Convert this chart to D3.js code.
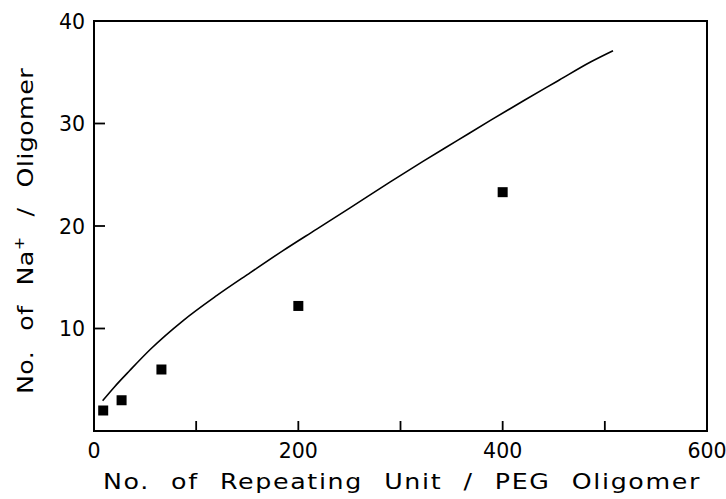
<!DOCTYPE html>
<html>
<head>
<meta charset="utf-8">
<script src="https://cdn.jsdelivr.net/npm/d3@7"></script>
<style>
  html, body { margin: 0; padding: 0; background: #fff; }
  svg { display: block; }
  text { font-family: "DejaVu Sans", "Liberation Sans", sans-serif; fill: #000; }
</style>
</head>
<body>
<svg id="chart" width="726" height="499"></svg>
<script>
// Measured Na+ bound per oligomer against chain length
const repeatUnits = [9, 27, 66, 200, 400];
const naPerOligomer = [2.0, 3.0, 6.0, 12.2, 23.3];

// Fitted curve, sampled along its length
const curveX = [8.5, 20, 35, 55, 87, 120, 153, 185, 218, 251, 290, 322, 355, 388, 420, 453, 486, 508];
const curveY = [2.96, 4.3, 5.9, 7.95, 10.75, 13.2, 15.45, 17.6, 19.7, 21.8, 24.3, 26.3, 28.3, 30.3, 32.2, 34.1, 36.0, 37.1];

const xTicks = [0, 100, 200, 300, 400, 500, 600];
const xTickLabels = [0, 200, 400, 600];
const yTicks = [0, 10, 20, 30, 40];
const yTickLabels = [10, 20, 30, 40];

const svg = d3.select("#chart");
const plotL = 94, plotR = 707, plotT = 21, plotB = 431;

const x = d3.scaleLinear().domain([0, 600]).range([plotL, plotR]);
const y = d3.scaleLinear().domain([0, 40]).range([plotB, plotT]);

// Frame
svg.append("rect")
  .attr("x", plotL).attr("y", plotT)
  .attr("width", plotR - plotL).attr("height", plotB - plotT)
  .attr("fill", "none").attr("stroke", "#000").attr("stroke-width", 2);

// Inward ticks
svg.append("g").selectAll("line").data(xTicks.filter(d => d > 0 && d < 600)).join("line")
  .attr("x1", d => x(d)).attr("x2", d => x(d))
  .attr("y1", plotB).attr("y2", plotB - 10)
  .attr("stroke", "#000").attr("stroke-width", 1.8);
svg.append("g").selectAll("line").data(yTicks.filter(d => d > 0 && d < 40)).join("line")
  .attr("y1", d => y(d)).attr("y2", d => y(d))
  .attr("x1", plotL).attr("x2", plotL + 11)
  .attr("stroke", "#000").attr("stroke-width", 1.8);

// Tick labels
svg.append("g").selectAll("text").data(xTickLabels).join("text")
  .attr("x", d => x(d)).attr("y", 458)
  .attr("text-anchor", "middle")
  .attr("font-size", 20.5)
  .text(d => d);
svg.append("g").selectAll("text").data(yTickLabels).join("text")
  .attr("x", 85).attr("y", d => y(d) + 7.5)
  .attr("text-anchor", "end")
  .attr("font-size", 20.5)
  .text(d => d);

// Wide lettering: glyphs stretched along the baseline, spacing fitted to the span
const stretch = 1.15;
function fitSpan(sel, target, nChars) {
  const len = sel.node().getComputedTextLength();
  if (len > 0) sel.attr("letter-spacing", (target / stretch - len) / nChars);
}

// Axis titles
const xt = svg.append("text")
  .attr("transform", `translate(103,489) scale(${stretch},1)`)
  .attr("font-size", 22)
  .attr("word-spacing", 10)
  .text("No. of Repeating Unit / PEG Oligomer");
fitSpan(xt, 598, 36);

const yt = svg.append("text")
  .attr("transform", `translate(33,394) rotate(-90) scale(${stretch},1)`)
  .attr("font-size", 22)
  .attr("word-spacing", 10);
yt.append("tspan").text("No. of Na");
yt.append("tspan").attr("dy", -9).attr("font-size", 14).text("+");
yt.append("tspan").attr("dy", 9).text(" / Oligomer");
fitSpan(yt, 326, 21);

// Curve
const curvePts = curveX.map((v, i) => [v, curveY[i]]);
svg.append("path")
  .datum(curvePts)
  .attr("fill", "none").attr("stroke", "#000").attr("stroke-width", 1.6)
  .attr("d", d3.line().x(d => x(d[0])).y(d => y(d[1])).curve(d3.curveMonotoneX));

// Measured points
const s = 10;
svg.append("g").selectAll("rect").data(repeatUnits.map((v, i) => [v, naPerOligomer[i]])).join("rect")
  .attr("x", d => x(d[0]) - s / 2).attr("y", d => y(d[1]) - s / 2)
  .attr("width", s).attr("height", s)
  .attr("fill", "#000");
</script>
</body>
</html>
